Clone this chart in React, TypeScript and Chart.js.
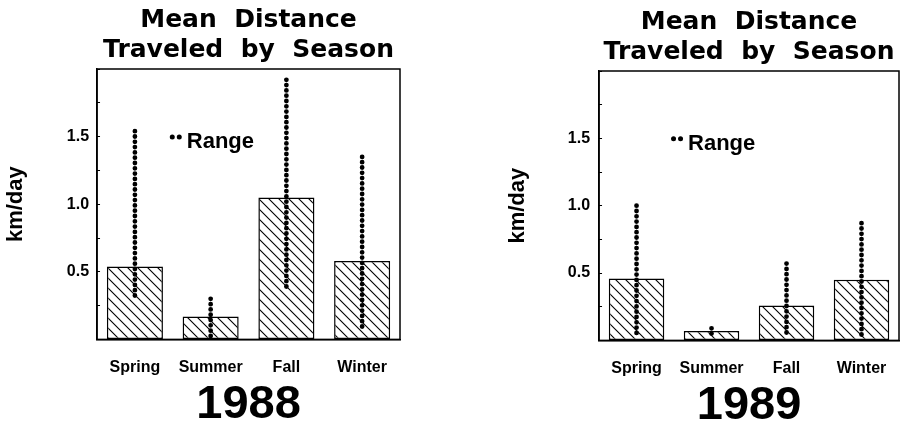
import React, { useEffect, useRef } from 'react';
import { Chart, registerables } from 'chart.js';

Chart.register(...registerables);

const categories = ['Spring', 'Summer', 'Fall', 'Winter'];
const mean1988 = [0.54, 0.17, 1.05, 0.58];
const rangeLow1988 = [0.3, 0.02, 0.37, 0.07];
const rangeHigh1988 = [1.54, 0.3, 1.92, 1.35];
const mean1989 = [0.46, 0.07, 0.26, 0.45];
const rangeLow1989 = [0.02, 0.02, 0.02, 0.02];
const rangeHigh1989 = [1.0, 0.09, 0.57, 0.87];
const yTickLabels = [0.5, 1.0, 1.5];
const titleLines = ['Mean  Distance', 'Traveled  by  Season'];
const yAxisTitle = 'km/day';
const legendLabel = 'Range';

function makeHatch(): CanvasPattern | string {
  const c = document.createElement('canvas');
  c.width = 10;
  c.height = 10;
  const g = c.getContext('2d');
  if (!g) return '#fff';
  g.fillStyle = '#fff';
  g.fillRect(0, 0, 10, 10);
  g.strokeStyle = '#000';
  g.lineWidth = 1.1;
  g.beginPath();
  g.moveTo(-1, -1);
  g.lineTo(11, 11);
  g.moveTo(-1, 9);
  g.lineTo(1, 11);
  g.moveTo(9, -1);
  g.lineTo(11, 1);
  g.stroke();
  return g.createPattern(c, 'repeat') || '#fff';
}

const framePlugin = {
  id: 'frame',
  beforeDatasetsDraw(chart: any) {
    const { ctx, chartArea } = chart;
    ctx.save();
    ctx.strokeStyle = '#000';
    ctx.lineWidth = 1.5;
    ctx.strokeRect(chartArea.left, chartArea.top, chartArea.right - chartArea.left, chartArea.bottom - chartArea.top);
    ctx.restore();
  },
};

const rangeLegendPlugin = {
  id: 'rangeLegend',
  afterDraw(chart: any, _args: any, opts: any) {
    const { ctx, chartArea } = chart;
    const x = chartArea.left + opts.xFrac * (chartArea.right - chartArea.left);
    const y = chart.scales.y.getPixelForValue(opts.yValue);
    ctx.save();
    ctx.fillStyle = '#000';
    [2.5, 9.5].forEach((dx) => {
      ctx.beginPath();
      ctx.arc(x + dx, y - 5, 2.5, 0, Math.PI * 2);
      ctx.fill();
    });
    ctx.font = 'bold 22px "Liberation Sans"';
    ctx.textBaseline = 'middle';
    ctx.textAlign = 'left';
    ctx.fillText(opts.text, x + 17, y);
    ctx.restore();
  },
};

type PanelProps = {
  year: string;
  means: number[];
  lows: number[];
  highs: number[];
  pad: { left: number; right: number; top: number };
  yTitlePad: { top: number; bottom: number };
  yTickPad: number;
  xTitleBottom: number;
};

function Panel(props: PanelProps) {
  const ref = useRef<HTMLCanvasElement | null>(null);
  useEffect(() => {
    if (!ref.current) return;
    const hatch = makeHatch();
    const rangeSets = categories.map((cat, i) => ({
      type: 'line' as const,
      data: [
        { x: cat, y: props.highs[i] },
        { x: cat, y: props.lows[i] },
      ],
      borderColor: '#000',
      borderWidth: 4.8,
      borderDash: [0, 5.3],
      borderCapStyle: 'round' as const,
      pointRadius: 0,
      fill: false,
      order: 0,
    }));
    const chart = new Chart(ref.current, {
      type: 'bar',
      data: {
        labels: categories,
        datasets: [
          {
            type: 'bar' as const,
            data: props.means,
            backgroundColor: hatch as any,
            borderColor: '#000',
            borderWidth: 1.5,
            borderSkipped: false,
            barPercentage: 0.74,
            categoryPercentage: 1,
            order: 1,
          },
          ...(rangeSets as any[]),
        ],
      },
      options: {
        animation: false,
        responsive: false,
        devicePixelRatio: 1,
        layout: { padding: { left: props.pad.left, right: props.pad.right, top: props.pad.top, bottom: 0 } },
        plugins: {
          legend: { display: false },
          tooltip: { enabled: false },
          title: {
            display: true,
            text: titleLines,
            color: '#000',
            fullSize: false,
            font: { family: '"DejaVu Sans"', weight: 'bold', size: 25, lineHeight: 1.2 },
            padding: { top: 5, bottom: 4 },
          },
          rangeLegend: { xFrac: 0.24, yValue: 1.46, text: legendLabel },
        } as any,
        scales: {
          x: {
            type: 'category',
            grid: { display: false },
            border: { display: true, color: '#000', width: 1.5 },
            ticks: {
              color: '#000',
              padding: 11,
              font: { family: '"Liberation Sans"', weight: 'bold', size: 16, lineHeight: 1.2 },
            },
            title: {
              display: true,
              text: props.year,
              color: '#000',
              font: { family: '"Liberation Sans"', weight: 'bold', size: 47, lineHeight: 0.7 },
              padding: { top: 0, bottom: props.xTitleBottom },
            },
          },
          y: {
            min: 0,
            max: 2,
            grid: { display: true, drawOnChartArea: false, drawTicks: true, tickLength: -3, color: '#000', lineWidth: 1 },
            border: { display: true, color: '#000', width: 1.5 },
            ticks: {
              stepSize: 0.25,
              autoSkip: false,
              color: '#000',
              padding: props.yTickPad,
              font: { family: '"Liberation Sans"', weight: 'bold', size: 16, lineHeight: 1.2 },
              callback: (v: any) => (yTickLabels.includes(Number(v)) ? Number(v).toFixed(1) : ''),
            },
            title: {
              display: true,
              text: yAxisTitle,
              color: '#000',
              font: { family: '"Liberation Sans"', weight: 'bold', size: 22, lineHeight: 1.2 },
              padding: props.yTitlePad,
            },
          },
        },
      },
      plugins: [framePlugin, rangeLegendPlugin],
    });
    return () => chart.destroy();
  }, []);
  return <canvas ref={ref} width={456} height={428} style={{ display: 'block', width: 456, height: 428 }} />;
}

export default function App() {
  return (
    <div style={{ position: 'absolute', left: 0, top: 0, width: 912, height: 428, display: 'flex', background: '#fff' }}>
      <Panel
        year="1988"
        means={mean1988}
        lows={rangeLow1988}
        highs={rangeHigh1988}
        pad={{ left: 0, right: 56, top: 0 }}
        yTitlePad={{ top: 3, bottom: 26.4 }}
        yTickPad={11}
        xTitleBottom={6.5}
      />
      <Panel
        year="1989"
        means={mean1989}
        lows={rangeLow1989}
        highs={rangeHigh1989}
        pad={{ left: 46, right: 13, top: 2 }}
        yTitlePad={{ top: 3, bottom: 24.4 }}
        yTickPad={12}
        xTitleBottom={5.5}
      />
    </div>
  );
}
